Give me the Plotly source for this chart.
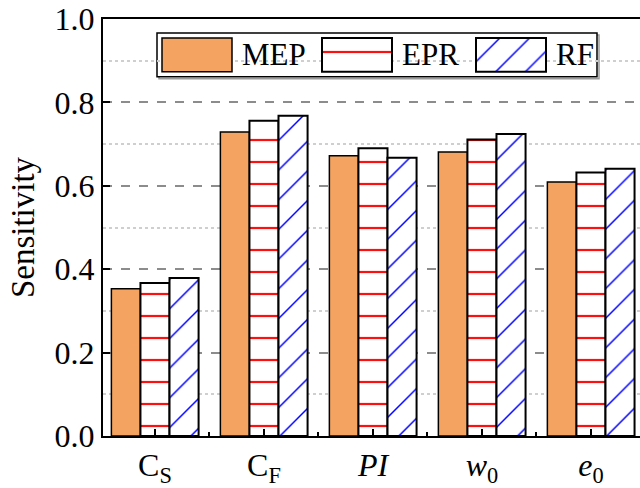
import plotly.graph_objects as go

# Sensitivity of each soil parameter under three methods
params = ["C<sub>S</sub>", "C<sub>F</sub>", "<i>PI</i>", "<i>w</i><sub>0</sub>", "<i>e</i><sub>0</sub>"]
mep = [0.353, 0.729, 0.672, 0.681, 0.609]
epr = [0.367, 0.756, 0.690, 0.711, 0.632]
rf = [0.379, 0.768, 0.667, 0.724, 0.641]
series_names = ["MEP", "EPR", "RF"]

FONT = "Liberation Serif"
pos = list(range(len(params)))

styles = {
    "MEP": dict(color="#F4A460", line=dict(color="black", width=1.5)),
    "EPR": dict(color="white", line=dict(color="black", width=2),
                pattern=dict(shape="-", fgcolor="#FF1010", bgcolor="white",
                             fgopacity=1, size=22, solidity=0.1,
                             fillmode="overlay")),
    "RF": dict(color="white", line=dict(color="black", width=2),
               pattern=dict(shape="/", fgcolor="#0000FF", bgcolor="white",
                            fgopacity=1, size=21, solidity=0.07,
                            fillmode="overlay")),
}

fig = go.Figure()
for name, vals in zip(series_names, [mep, epr, rf]):
    fig.add_trace(go.Bar(x=pos, y=vals, name=name, marker=styles[name],
                         showlegend=False))

# Hand-built legend on an overlay axis measured in pixels of the plot area
leg_x = [94, 254, 408]
for name, cx in zip(series_names, leg_x):
    fig.add_trace(go.Bar(x=[cx], y=[34], base=[366], width=[70],
                         marker=styles[name], xaxis="x2", yaxis="y2",
                         showlegend=False, hoverinfo="skip"))
    fig.add_annotation(x=cx + 43, y=383, xref="x2", yref="y2", text=name,
                       showarrow=False, xanchor="left", yanchor="middle",
                       font=dict(family=FONT, size=31, color="black"))
# legend frame with a faint drop shadow
fig.add_shape(type="rect", x0=56, x1=496, y0=359, y1=403, xref="x2", yref="y2",
              line=dict(color="#9a9a9a", width=1.5), fillcolor="rgba(0,0,0,0)",
              layer="below")
fig.add_shape(type="rect", x0=54, x1=494, y0=361, y1=405, xref="x2", yref="y2",
              line=dict(color="black", width=1.5), fillcolor="white",
              layer="below")

fig.update_layout(
    width=640, height=488,
    margin=dict(l=103, r=0, t=19, b=50),
    paper_bgcolor="white", plot_bgcolor="white",
    barmode="group", bargap=0.2, bargroupgap=0,
    font=dict(family=FONT, color="black"),
    xaxis=dict(
        range=[-0.477, 4.45], tickmode="array", tickvals=pos, ticktext=params,
        showline=True, linecolor="black", linewidth=2, mirror=True,
        ticks="inside", ticklen=7, tickwidth=2, tickcolor="black",
        tickfont=dict(family=FONT, size=32), showgrid=False, zeroline=False,
        minor=dict(tickvals=[0.5, 1.5, 2.5, 3.5], ticks="inside", ticklen=4,
                   tickwidth=2, tickcolor="black", showgrid=False),
    ),
    yaxis=dict(
        range=[0, 1.0], tickmode="linear", tick0=0, dtick=0.2, tickformat=".1f",
        showline=True, linecolor="black", linewidth=2, mirror=False,
        ticks="inside", ticklen=7, tickwidth=2, tickcolor="black",
        tickfont=dict(family=FONT, size=32),
        showgrid=True, gridcolor="#8c8c8c", griddash="dash", gridwidth=1.5,
        zeroline=False,
        minor=dict(dtick=0.1, showgrid=True, gridcolor="#cfcfcf",
                   griddash="dot", gridwidth=1.5),
        title=dict(text="Sensitivity", font=dict(family=FONT, size=33), standoff=10),
    ),
    xaxis2=dict(range=[0, 537], overlaying="x", visible=False, fixedrange=True),
    yaxis2=dict(range=[0, 419], overlaying="y", visible=False, fixedrange=True),
)

fig.write_html("out.html")
